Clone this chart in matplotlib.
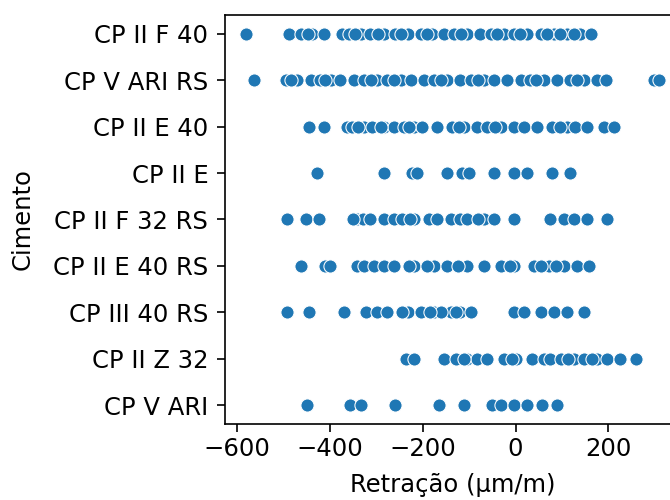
import matplotlib
matplotlib.use("Agg")
import matplotlib.pyplot as plt
import pandas as pd
import seaborn as sns

# retracao por tipo de cimento (um/m)
cp_ii_f_40 = [-582, -488, -463, -438, -413, -374, -359, -334, -313, -284, -259, -233,
              -205, -180, -154, -133, -104, -76, -54, -25, -4, 25, 54, 82, 111, 140, 162,
              -447, -346, -296, -246, -192, -118, -40, 10, 68, 96, 125]
cp_v_ari_rs = [-564, -496, -471, -442, -421, -399, -378, -349, -327, -298, -277, -248,
               -226, -198, -176, -147, -119, -97, -68, -47, -18, 11, 32, 61, 90, 118,
               147, 176, 194, 298, 310, -484, -410, -312, -262, -160, -82, 45, 132]
cp_ii_e_40 = [-445, -413, -363, -352, -327, -309, -284, -262, -241, -219, -201, -169,
              -137, -111, -83, -61, -32, -4, 18, 46, 79, 111, 129, 154, 190, 212,
              -340, -290, -230, -122, -44, 95]
cp_ii_e = [-428, -284, -223, -212, -147, -115, -101, -47, -4, 25, 79, 118]
cp_ii_f_32_rs = [-492, -453, -424, -341, -330, -313, -284, -262, -244, -219, -187, -169,
                 -140, -119, -104, -68, -47, -4, 75, 104, 126, 154, 197, -350, -228, -80]
cp_ii_e_40_rs = [-463, -410, -400, -341, -327, -305, -284, -262, -219, -176, -147,
                 -104, -68, -32, -4, 39, 72, 104, 133, 158, -230, -190, -125, -12, 55, 88]
cp_iii_40_rs = [-492, -445, -370, -323, -298, -277, -233, -205, -176, -140, -119, -97,
                -4, 18, 54, 82, 111, 147, -245, -160, -185, -128]
cp_ii_z_32 = [-237, -219, -154, -129, -104, -83, -61, -25, 0, 36, 61, 75, 97, 126, 147,
              176, 197, 226, 259, -112, -8, 112, 165]
cp_v_ari = [-449, -356, -334, -259, -165, -111, -50, -32, -4, 25, 57, 90]

cimentos = ["CP II F 40", "CP V ARI RS", "CP II E 40", "CP II E", "CP II F 32 RS",
            "CP II E 40 RS", "CP III 40 RS", "CP II Z 32", "CP V ARI"]
valores = [cp_ii_f_40, cp_v_ari_rs, cp_ii_e_40, cp_ii_e, cp_ii_f_32_rs,
           cp_ii_e_40_rs, cp_iii_40_rs, cp_ii_z_32, cp_v_ari]

rows = []
for nome, vals in zip(cimentos, valores):
    for v in vals:
        rows.append({"Cimento": nome, "Retração (µm/m)": v})
df = pd.DataFrame(rows)

fig = plt.figure(figsize=(6.7, 5.0), dpi=100)
ax = fig.add_axes([225 / 670, 76 / 500, 455 / 670, 409 / 500])
sns.scatterplot(data=df, x="Retração (µm/m)", y="Cimento", ax=ax, s=90)
ax.set_xticks([-600, -400, -200, 0, 200])
ax.tick_params(labelsize=17.5, length=6, width=1.2)
ax.tick_params(axis="y", pad=6)
ax.tick_params(axis="x", pad=3)
ax.xaxis.label.set_size(17.5)
ax.yaxis.label.set_size(17.5)
ax.xaxis.labelpad = 9
ax.yaxis.labelpad = 13
for sp in ax.spines.values():
    sp.set_linewidth(1.2)

fig.savefig("out.png", dpi=100)
plt.close(fig)
